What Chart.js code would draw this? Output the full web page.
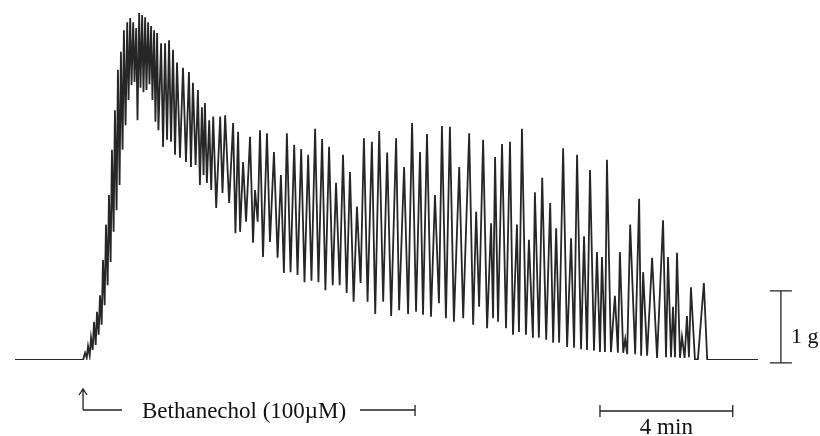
<!DOCTYPE html>
<html>
<head>
<meta charset="utf-8">
<script src="https://cdn.jsdelivr.net/npm/chart.js@4"></script>
<style>
  html, body { margin: 0; padding: 0; background: #fff; }
  canvas { display: block; }
</style>
</head>
<body>
<canvas id="traceChart" width="820" height="436"></canvas>
<script>
// time in minutes from bethanechol addition, force in grams
const traceMin = [
  -2.05, 0,
  0.06, 0.11, 0.15, 0.20, 0.24, 0.29, 0.33, 0.38, 0.42, 0.47, 0.51, 0.56, 0.60, 0.65,
  0.69, 0.74, 0.78, 0.83, 0.87, 0.92, 0.96, 1.01, 1.05, 1.10, 1.14, 1.19, 1.23, 1.28,
  1.33, 1.37, 1.42, 1.46, 1.51, 1.55, 1.60, 1.64, 1.69, 1.73, 1.78, 1.82, 1.87, 1.91,
  1.96, 2.00, 2.05, 2.09, 2.14, 2.18, 2.23, 2.27,
  2.35, 2.41, 2.47, 2.53, 2.59, 2.65, 2.71, 2.77, 2.83, 2.92, 3.01, 3.10, 3.19, 3.25,
  3.31, 3.39, 3.46, 3.52, 3.58, 3.63, 3.67, 3.73, 3.80, 3.86, 3.92, 4.01, 4.13, 4.20,
  4.28, 4.40, 4.52, 4.59, 4.67, 4.73, 4.82, 4.91, 5.03, 5.12, 5.18, 5.26, 5.33, 5.42,
  5.54, 5.63, 5.75, 5.86, 5.96, 6.05, 6.14, 6.25, 6.36, 6.46, 6.57, 6.67, 6.78, 6.88,
  6.99, 7.09, 7.20, 7.30, 7.41, 7.52, 7.62, 7.73, 7.83, 7.94, 8.04, 8.15, 8.25, 8.36,
  8.46, 8.57, 8.70, 8.80, 8.92, 9.04, 9.16, 9.28, 9.43, 9.52, 9.67, 9.79, 9.91, 10.03,
  10.15, 10.24, 10.36, 10.48, 10.60, 10.72, 10.81, 10.93, 11.05, 11.17, 11.33, 11.45,
  11.63, 11.75, 11.84, 11.93, 12.05, 12.17, 12.29, 12.35, 12.41, 12.50, 12.62, 12.74,
  12.86, 12.95, 13.07, 13.13, 13.22, 13.34, 13.43, 13.55, 13.61, 13.73, 13.83, 13.95,
  14.07, 14.16, 14.25, 14.34, 14.46, 14.58, 14.70, 14.79, 14.88, 15.00, 15.09, 15.18,
  15.27, 15.39, 15.48, 15.57, 15.63, 15.72, 15.78, 15.90, 16.02, 16.11, 16.17, 16.27,
  16.33, 16.39, 16.48, 16.63, 16.75, 16.81, 16.87, 16.99, 17.14, 17.29, 17.47, 17.56,
  17.62, 17.71, 17.77, 17.83, 17.89, 17.98, 18.04, 18.12, 18.19, 18.25, 18.31, 18.43,
  18.52, 18.70, 18.80, 20.33
];

const traceForce = [
  0, 0,
  0.10, 0.03, 0.19, 0.06, 0.31, 0.14, 0.53, 0.21, 0.67, 0.35, 0.90, 0.49, 1.39, 0.76,
  1.88, 1.04, 2.29, 1.36, 2.92, 1.78, 3.47, 2.08, 4.03, 2.43, 4.28, 2.92, 4.58, 3.26,
  4.69, 3.61, 4.75, 3.82, 4.69, 3.86, 4.61, 3.33, 4.82, 3.78, 4.79, 3.72, 4.76, 3.75,
  4.69, 3.83, 4.64, 3.61, 4.58, 3.31, 4.54, 3.19,
  4.40, 2.96, 4.40, 3.06, 4.44, 3.03, 4.31, 2.85, 4.13, 2.81, 4.06, 2.75, 4.00, 2.68,
  3.85, 2.71, 3.75, 2.43, 3.51, 2.57, 3.57, 2.46, 3.33, 2.36, 3.38, 2.11, 3.38, 2.32,
  3.40, 2.18, 3.29, 1.76, 3.17, 1.78, 2.75, 1.92, 3.10, 1.63, 2.36, 1.92, 3.19, 1.43,
  3.15, 1.64, 2.89, 1.42, 2.57, 1.21, 3.15, 1.22, 2.99, 1.18, 2.93, 1.08, 2.85, 1.10,
  3.21, 1.08, 3.07, 0.97, 2.96, 1.04, 2.46, 1.04, 2.85, 0.93, 2.61, 0.81, 2.13, 1.07,
  3.08, 0.81, 3.03, 0.64, 3.18, 0.81, 2.88, 0.61, 3.08, 0.69, 2.68, 0.64, 3.29, 0.67,
  2.89, 0.63, 3.14, 0.60, 2.29, 0.79, 3.25, 0.58, 3.24, 0.53, 2.68, 0.58,
  3.15, 0.49, 2.06, 0.74, 3.06, 0.44, 1.90, 0.58, 2.82, 0.53, 3.00, 0.44,
  3.03, 0.35, 1.88, 0.39, 3.21, 0.35, 1.67, 0.31, 2.33, 0.31, 2.53, 0.28,
  2.18, 0.24, 1.83, 0.24, 2.94, 0.18, 1.69, 0.17, 2.85, 0.15, 1.72, 0.14,
  2.64, 0.13, 1.50, 0.11, 1.43, 0.11, 2.78, 0.11, 0.89, 0.10, 1.50, 0.10,
  0.29, 0.08, 1.88, 0.08, 2.24, 0.06, 1.22, 0.06, 1.42, 0.03, 1.94, 0.04,
  1.43, 0.04, 0.74, 0.04, 1.49, 0.03, 0.32, 0.03, 0.61, 0.04, 1.01, 0.01,
  0.01, 1.07, 0, 0
];

const drugLabel = "Bethanechol (100\u00b5M)";
const drugStartMin = 0;
const drugEndMin = 10;
const timeBarStartMin = 15.57;
const timeBarLengthMin = 4;
const timeBarLabel = "4 min";
const forceBarMin = 21.02;
const forceBarFromG = -0.04;
const forceBarLengthG = 1;
const forceBarLabel = "1 g";

const tracePoints = traceMin.map((t, i) => ({ x: t, y: traceForce[i] }));

const serif = '23px "Liberation Serif", "Times New Roman", serif';

const annotations = {
  id: "annotations",
  afterDraw(chart) {
    const { ctx, scales } = chart;
    const x = scales.x, y = scales.y;
    ctx.save();
    ctx.strokeStyle = "#222";
    ctx.fillStyle = "#111";
    ctx.lineWidth = 1.3;
    ctx.font = serif;
    ctx.textBaseline = "alphabetic";

    // arrow + bethanechol bar
    const ax = x.getPixelForValue(drugStartMin);
    const rowY = 410;
    ctx.beginPath();
    ctx.moveTo(ax, rowY);
    ctx.lineTo(ax, 389);
    ctx.moveTo(ax - 4, 395);
    ctx.lineTo(ax, 389);
    ctx.lineTo(ax + 4, 395);
    ctx.moveTo(ax, rowY);
    ctx.lineTo(ax + 39, rowY);
    ctx.stroke();

    ctx.textAlign = "left";
    ctx.fillText(drugLabel, 142, 418);

    const ex = x.getPixelForValue(drugEndMin);
    ctx.beginPath();
    ctx.moveTo(ex - 55, rowY);
    ctx.lineTo(ex, rowY);
    ctx.moveTo(ex, rowY - 5);
    ctx.lineTo(ex, rowY + 6);
    ctx.stroke();

    // 4 min bar
    const t0 = x.getPixelForValue(timeBarStartMin);
    const t1 = x.getPixelForValue(timeBarStartMin + timeBarLengthMin);
    ctx.beginPath();
    ctx.moveTo(t0, 411);
    ctx.lineTo(t1, 411);
    ctx.moveTo(t0, 405);
    ctx.lineTo(t0, 417);
    ctx.moveTo(t1, 405);
    ctx.lineTo(t1, 417);
    ctx.stroke();
    ctx.textAlign = "center";
    ctx.fillText(timeBarLabel, (t0 + t1) / 2, 434);

    // 1 g bar
    const gx = x.getPixelForValue(forceBarMin);
    const g0 = y.getPixelForValue(forceBarFromG);
    const g1 = y.getPixelForValue(forceBarFromG + forceBarLengthG);
    ctx.beginPath();
    ctx.moveTo(gx, g0);
    ctx.lineTo(gx, g1);
    ctx.moveTo(gx - 11, g0);
    ctx.lineTo(gx + 11, g0);
    ctx.moveTo(gx - 11, g1);
    ctx.lineTo(gx + 11, g1);
    ctx.stroke();
    ctx.textAlign = "left";
    ctx.font = '22px "Liberation Serif", "Times New Roman", serif';
    ctx.fillText(forceBarLabel, 791, 343);

    ctx.restore();
  }
};

const ctx = document.getElementById("traceChart").getContext("2d");
const traceChart = new Chart(ctx, {
  type: "line",
  data: {
    datasets: [
      {
        label: "Force",
        data: tracePoints,
        borderColor: "#262626",
        borderWidth: 1.8,
        pointRadius: 0,
        tension: 0,
        fill: false,
      },
    ],
  },
  options: {
    responsive: false,
    animation: false,
    devicePixelRatio: 1,
    layout: { padding: { left: 15, right: 62, top: 0, bottom: 76 } },
    scales: {
      x: { type: "linear", min: -2.05, max: 20.33, display: false },
      y: { min: 0, max: 5, display: false },
    },
    plugins: {
      legend: { display: false },
      tooltip: { enabled: false },
    },
  },
  plugins: [annotations],
});
</script>
</body>
</html>
